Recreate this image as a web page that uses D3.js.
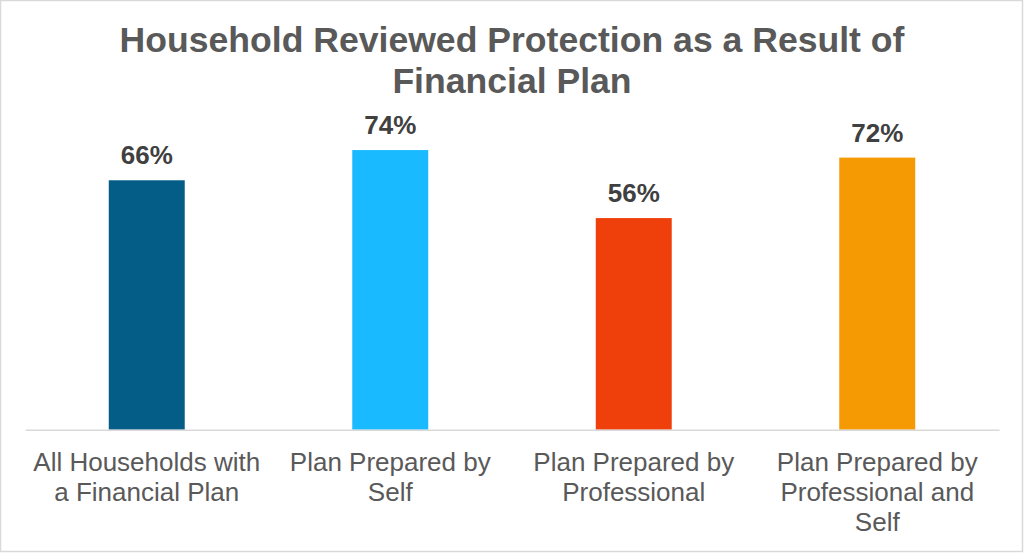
<!DOCTYPE html>
<html>
<head>
<meta charset="utf-8">
<script src="https://cdn.jsdelivr.net/npm/d3@7"></script>
<style>
  html, body { margin: 0; padding: 0; background: #fff; }
  svg { display: block; font-family: "Liberation Sans", Arial, sans-serif; }
</style>
</head>
<body>
<svg id="chart" width="1024" height="553"></svg>
<script>
const titleLines = ["Household Reviewed Protection as a Result of", "Financial Plan"];
const categories = [
  ["All Households with", "a Financial Plan"],
  ["Plan Prepared by", "Self"],
  ["Plan Prepared by", "Professional"],
  ["Plan Prepared by", "Professional and", "Self"]
];
const values = [0.66, 0.74, 0.56, 0.72];
const barColors = ["#035d87", "#19baff", "#ef400b", "#f59a02"];

const svg = d3.select("#chart");
const W = 1024, H = 553;

svg.append("rect").attr("x", 0.5).attr("y", 0.5).attr("width", W - 2).attr("height", H - 2)
  .attr("fill", "#fff").attr("stroke", "#d9d9d9").attr("stroke-width", 1.5);

const plot = { left: 25, right: 999, top: 51.8, bottom: 429.7 };
const ids = categories.map((c, i) => i);
const x = d3.scaleBand().domain(ids).range([plot.left, plot.right]).paddingInner(0.688).paddingOuter(0.344);
const y = d3.scaleLinear().domain([0, 1]).range([plot.bottom, plot.top]);

// title
svg.append("text").attr("text-anchor", "middle").attr("fill", "#595959")
  .attr("font-weight", "bold").attr("font-size", 35.6)
  .selectAll("tspan").data(titleLines).join("tspan")
  .attr("x", 512).attr("y", (d, i) => 52.3 + i * 40.4).text(d => d);

// bars
svg.append("g").selectAll("rect").data(values).join("rect")
  .attr("x", (d, i) => x(i)).attr("width", x.bandwidth())
  .attr("y", d => y(d)).attr("height", d => y(0) - y(d))
  .attr("fill", (d, i) => barColors[i]);

// value labels
svg.append("g").selectAll("text").data(values).join("text")
  .attr("x", (d, i) => x(i) + x.bandwidth() / 2).attr("y", d => y(d) - 16)
  .attr("text-anchor", "middle").attr("font-weight", "bold").attr("font-size", 26)
  .attr("fill", "#404040").text(d => d3.format(".0%")(d));

// axis
const axis = d3.axisBottom(x).tickSize(0).tickFormat("");
const ag = svg.append("g").attr("transform", `translate(0,${plot.bottom})`).call(axis);
ag.select(".domain").attr("stroke", "#d9d9d9").attr("stroke-width", 1.5);

// category labels
const cg = svg.append("g").selectAll("text").data(categories).join("text")
  .attr("text-anchor", "middle").attr("font-size", 26).attr("fill", "#595959");
cg.each(function(lines, i) {
  d3.select(this).selectAll("tspan").data(lines).join("tspan")
    .attr("x", x(i) + x.bandwidth() / 2).attr("y", (d, j) => 471 + j * 30).text(d => d);
});
</script>
</body>
</html>
